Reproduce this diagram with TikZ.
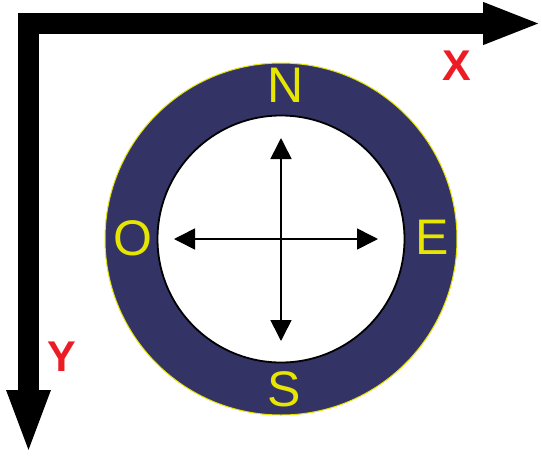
\documentclass[tikz,border=0pt]{standalone}
\usepackage{fontspec}
\setmainfont{Liberation Sans}
\usetikzlibrary{arrows.meta}
\definecolor{ringblue}{RGB}{51,51,102}
\definecolor{ringyellow}{RGB}{230,230,0}
\definecolor{axisred}{RGB}{237,28,36}
\begin{document}
\begin{tikzpicture}[x=1pt,y=-1pt,
  axis/.style={line width=21pt, miter limit=10},
  dirarrow/.style={line width=1.6pt, {Triangle[length=21pt,width=21pt]}-{Triangle[length=21pt,width=21pt]}},
  cardinal/.style={text=ringyellow, font=\fontsize{50}{50}\selectfont, inner sep=0pt},
  axislabel/.style={text=axisred, font=\bfseries\fontsize{43}{43}\selectfont, inner sep=0pt}]
\useasboundingbox (0,0) rectangle (542,459);
% axes
\coordinate (xend) at (542,23.5);
\coordinate (origin) at (28.5,23.5);
\coordinate (yend) at (28.5,455);
\draw[axis, {Triangle[length=65pt,width=39pt]}-{Triangle[length=59pt,width=38pt]}]
  (yend) -- (origin) -- (xend);
\node[axislabel] (xlab) at (457,66) {X};
\node[axislabel] (ylab) at (62,357) {Y};
% ring
\coordinate (c) at (281,239);
\fill[ringblue, even odd rule] (c) circle[radius=176] (c) circle[radius=123.5];
\draw[ringyellow, line width=1pt] (c) circle[radius=176];
\draw[black, line width=1.8pt] (c) circle[radius=123.5];
% cardinal letters
\node[cardinal] (N) at (286,85) {N};
\node[cardinal] (E) at (432,237) {E};
\node[cardinal] (O) at (133,238) {O};
\node[cardinal] (S) at (284,389) {S};
% direction arrows
\coordinate (up) at (281,138);
\coordinate (down) at (281,341);
\coordinate (left) at (174,239);
\coordinate (right) at (378,239);
\draw[dirarrow] (down) -- (up);
\draw[dirarrow] (left) -- (right);
\end{tikzpicture}
\end{document}
